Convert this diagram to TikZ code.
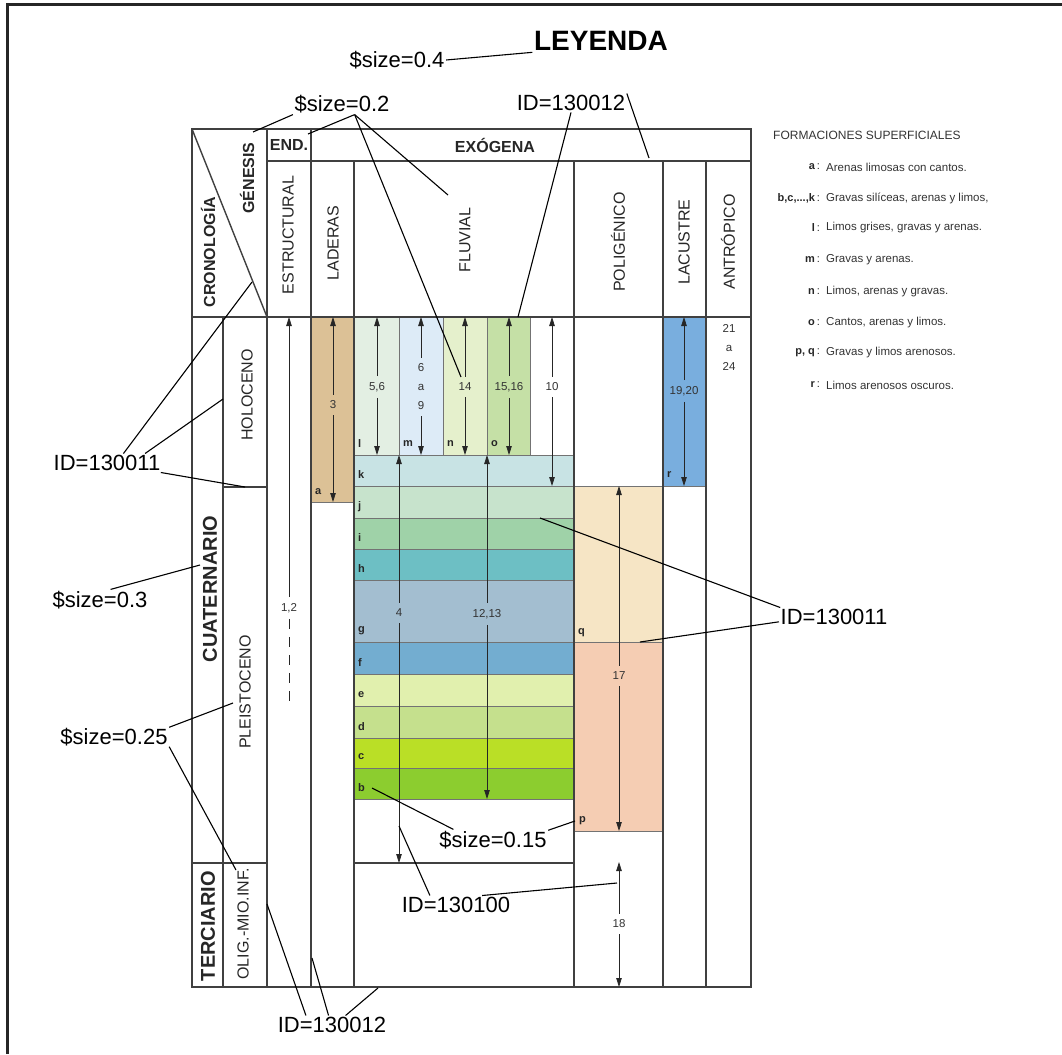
\documentclass[tikz,border=0pt]{standalone}
\usepackage{fontspec}
\setmainfont{Liberation Sans}
\usetikzlibrary{arrows.meta, positioning, calc}

\definecolor{colA}{HTML}{DCC196}
\definecolor{colL}{HTML}{E3EFE3}
\definecolor{colM}{HTML}{DDEBF7}
\definecolor{colN}{HTML}{E5F0CC}
\definecolor{colO}{HTML}{C5E0A6}
\definecolor{colK}{HTML}{C8E3E4}
\definecolor{colJ}{HTML}{C7E3CC}
\definecolor{colI}{HTML}{9FD2A8}
\definecolor{colH}{HTML}{6DBFC4}
\definecolor{colG}{HTML}{A3BED0}
\definecolor{colF}{HTML}{73ADD0}
\definecolor{colE}{HTML}{E1F0AE}
\definecolor{colD}{HTML}{C5E08D}
\definecolor{colC}{HTML}{BADF26}
\definecolor{colB}{HTML}{8CCD2F}
\definecolor{colQ}{HTML}{F6E5C5}
\definecolor{colP}{HTML}{F5CDB3}
\definecolor{colR}{HTML}{79AEDE}

\begin{document}
\begin{tikzpicture}[
  x=1pt, y=-1pt,
  sheet/.style = {draw=black!85, line width=3pt},
  tableline/.style = {draw=black!75, line width=1.4pt},
  band/.style = {draw=black!55, line width=0.9pt},
  hdr/.style = {font=\fontsize{16}{18}\selectfont\bfseries, text=black!85},
  colname/.style = {rotate=90, font=\fontsize{16}{18}\selectfont, text=black!85},
  eraname/.style = {rotate=90, font=\fontsize{20}{22}\selectfont\bfseries, text=black!85},
  key/.style = {font=\fontsize{11}{13}\selectfont\bfseries, text=black!85, inner sep=0pt},
  num/.style = {font=\fontsize{11.5}{19}\selectfont, text=black!80, align=center, inner xsep=1pt, inner ysep=6pt},
  dimline/.style = {line width=0.8pt, draw=black!85, -{Triangle[length=9pt, width=5.5pt]}},
  note/.style = {font=\fontsize{22}{26}\selectfont, inner sep=1.5pt},
  leader/.style = {line width=1.1pt, draw=black},
  legtext/.style = {font=\fontsize{11.5}{13}\selectfont, text=black!80, anchor=west, inner sep=0pt}
]

\useasboundingbox (0,0) rectangle (1062,1054);
\draw[sheet] (7,1054) -- (7,5) -- (1062,5);

% ------------------------------------------------------
% coloured formations
% ------------------------------------------------------
\draw[band, fill=colA] (311,317) rectangle (354,502);
\node[key, anchor=west] (k-a) at (315,492) {a};

\foreach \nm/\xl/\xr/\col in {l/354/399/colL, m/399/443/colM, n/443/487/colN, o/487/530/colO}{
  \draw[band, fill=\col] (\xl,317) rectangle (\xr,455);
  \node[key, anchor=west] (k-\nm) at (\xl+4,444) {\nm};
}

\foreach \nm/\yt/\yb/\col in {k/455/486/colK, j/486/518/colJ, i/518/549/colI, h/549/580/colH,
  g/580/642/colG, f/642/674/colF, e/674/706/colE, d/706/738/colD, c/738/768/colC, b/768/799/colB}{
  \draw[band, fill=\col] (354,\yt) rectangle (574,\yb);
  \node[key, anchor=west] (k-\nm) at (358,\yb-11) {\nm};
}

\draw[band, fill=colQ] (574,486) rectangle (663,642);
\draw[band, fill=colP] (574,642) rectangle (663,831);
\draw[band, fill=colR] (663,317) rectangle (706,486);
\node[key, anchor=west] (k-q) at (578,633) {q};
\node[key, anchor=west] (k-p) at (579,821) {p};
\node[key, anchor=west] (k-r) at (667,475) {r};

% ------------------------------------------------------
% table
% ------------------------------------------------------
\draw[tableline] (192,129) rectangle (751,987);
\draw[tableline] (267,161) -- (751,161);
\draw[tableline] (192,317) -- (751,317);
\draw[tableline] (192,863) -- (267,863);
\draw[tableline] (223,487) -- (267,487);
\draw[tableline] (354,863) -- (574,863);
\draw[tableline] (192,129) -- (267,317);
\draw[tableline] (223,317) -- (223,987);
\foreach \x in {267,311} \draw[tableline] (\x,129) -- (\x,987);
\foreach \x in {354,574,663,706} \draw[tableline] (\x,161) -- (\x,987);

\node[hdr] (endo) at (289,145) {END.};
\node[hdr] (exo) at (495,145) {EXÓGENA};
\node[hdr, rotate=90] (crono) at (208,252) {CRONOLOGÍA};
\node[hdr, rotate=90] (gene) at (247,178) {GÉNESIS};
\node[colname] (estr) at (288,235) {ESTRUCTURAL};
\node[colname] (lade) at (333,243) {LADERAS};
\node[colname] (fluv) at (465,240) {FLUVIAL};
\node[colname] (poli) at (618,242) {POLIGÉNICO};
\node[colname] (lacu) at (684,242) {LACUSTRE};
\node[colname] (antr) at (728,242) {ANTRÓPICO};
\node[colname] (holo) at (247,395) {HOLOCENO};
\node[colname] (plei) at (245,692) {PLEISTOCENO};
\node[colname] (olig) at (243,924) {OLIG.-MIO.INF.};
\node[eraname] (cuat) at (210,589) {CUATERNARIO};
\node[eraname] (terc) at (208,926) {TERCIARIO};

% ------------------------------------------------------
% ranges
% ------------------------------------------------------
\foreach \nm/\x/\yt/\yb/\yl/\txt in {
  d3/333/317/502/405/3,
  d56/377/317/455/387/{5,6},
  d69/421/317/455/387/{6\\a\\9},
  d14/465/317/455/387/14,
  d1516/509/317/455/387/{15,16},
  d10/552/317/486/387/10,
  d4/399/455/863/613/4,
  d1213/487/455/799/614/{12,13},
  d17/619/486/831/676/17,
  d18/619/862/987/924/18,
  d1920/684/317/486/391/{19,20}}{
  \node[num] (\nm) at (\x,\yl) {\txt};
  \draw[dimline] (\nm.north) -- (\x,\yt);
  \draw[dimline] (\nm.south) -- (\x,\yb);
}
\node[num] (d12) at (289,608) {1,2};
\draw[dimline] (d12.north) -- (289,317);
\draw[line width=0.8pt, draw=black!85, dash pattern=on 10pt off 8pt] (d12.south) -- (289,705);
\node[num] (d2124) at (729,347) {21\\a\\24};

% ------------------------------------------------------
% legend
% ------------------------------------------------------
\node[legtext, font=\fontsize{12}{14}\selectfont] (formtit) at (773,135) {FORMACIONES SUPERFICIALES};
\foreach \nm/\y/\k/\txt in {
  la/167/a/{Arenas limosas con cantos.},
  lb/198/{b,c,...,k}/{Gravas silíceas, arenas y limos,},
  ll/228/l/{Limos grises, gravas y arenas.},
  lm/260/m/{Gravas y arenas.},
  ln/292/n/{Limos, arenas y gravas.},
  lo/323/o/{Cantos, arenas y limos.},
  lpq/353/{p, q}/{Gravas y limos arenosos.},
  lr/385/r/{Limos arenosos oscuros.}}{
  \node[key, anchor=east] (\nm-k) at (820,\y) {\k\,{\mdseries :}};
  \node[legtext] (\nm) at (826,\y) {\txt};
}

% ------------------------------------------------------
% annotations
% ------------------------------------------------------
\node[note, font=\fontsize{28}{30}\selectfont\bfseries] (leyenda) at (601,41) {LEYENDA};
\node[note] (s04) at (397,60) {\$size=0.4};
\draw[leader] (s04.east) -- (leyenda.south west);

\coordinate (tGen) at (253,132);
\coordinate (tEnd) at (308,134);
\coordinate (tFlu) at (448,195);
\coordinate (t14) at (461,377);
\node[note] (s02) at (342,104) {\$size=0.2};
\draw[leader] (s02.south west) -- (tGen);
\draw[leader] (s02.-40) -- (tEnd);
\draw[leader] (s02.-40) -- (t14);
\draw[leader] (s02.-40) -- (tFlu);

\coordinate (tO) at (518,317);
\coordinate (tExo) at (649,158);
\node[note] (id12t) at (571,103) {ID=130012};
\draw[leader] (id12t.south) -- (tO);
\draw[leader] (id12t.north east) -- (tExo);

\coordinate (tCro) at (252,282);
\coordinate (tHol) at (223,399);
\coordinate (tHolB) at (245,487);
\node[note] (id11l) at (107,463) {ID=130011};
\draw[leader] (id11l.30) -- (tCro);
\draw[leader] (id11l.14) -- (tHol);
\draw[leader] (id11l.-10) -- (tHolB);

\coordinate (tCua) at (200,565);
\node[note] (s03) at (100,600) {\$size=0.3};
\draw[leader] (s03.45) -- (tCua);

\coordinate (tPle) at (233,703);
\coordinate (tOli) at (236,870);
\node[note] (s025) at (114,737) {\$size=0.25};
\draw[leader] (s025.10) -- (tPle);
\draw[leader] (s025.-10) -- (tOli);

\coordinate (tJ) at (540,518);
\coordinate (tQ) at (640,642);
\node[note] (id11r) at (834,617) {ID=130011};
\draw[leader] (id11r.170) -- (tJ);
\draw[leader] (id11r.185) -- (tQ);

\coordinate (tB) at (372,788);
\coordinate (tP) at (575,821);
\node[note] (s015) at (493,840) {\$size=0.15};
\draw[leader] (s015.165) -- (tB);
\draw[leader] (s015.10) -- (tP);

\coordinate (t4) at (399,826);
\coordinate (t18) at (617,883);
\node[note] (id100) at (456,905) {ID=130100};
\draw[leader] (id100.160) -- (t4);
\draw[leader] (id100.20) -- (t18);

\coordinate (tOlig) at (267,904);
\coordinate (tEstr) at (312,958);
\coordinate (tBot) at (378,988);
\node[note] (id12b) at (332,1025) {ID=130012};
\draw[leader] (id12b.160) -- (tOlig);
\draw[leader] (id12b.110) -- (tEstr);
\draw[leader] (id12b.35) -- (tBot);

\end{tikzpicture}
\end{document}
